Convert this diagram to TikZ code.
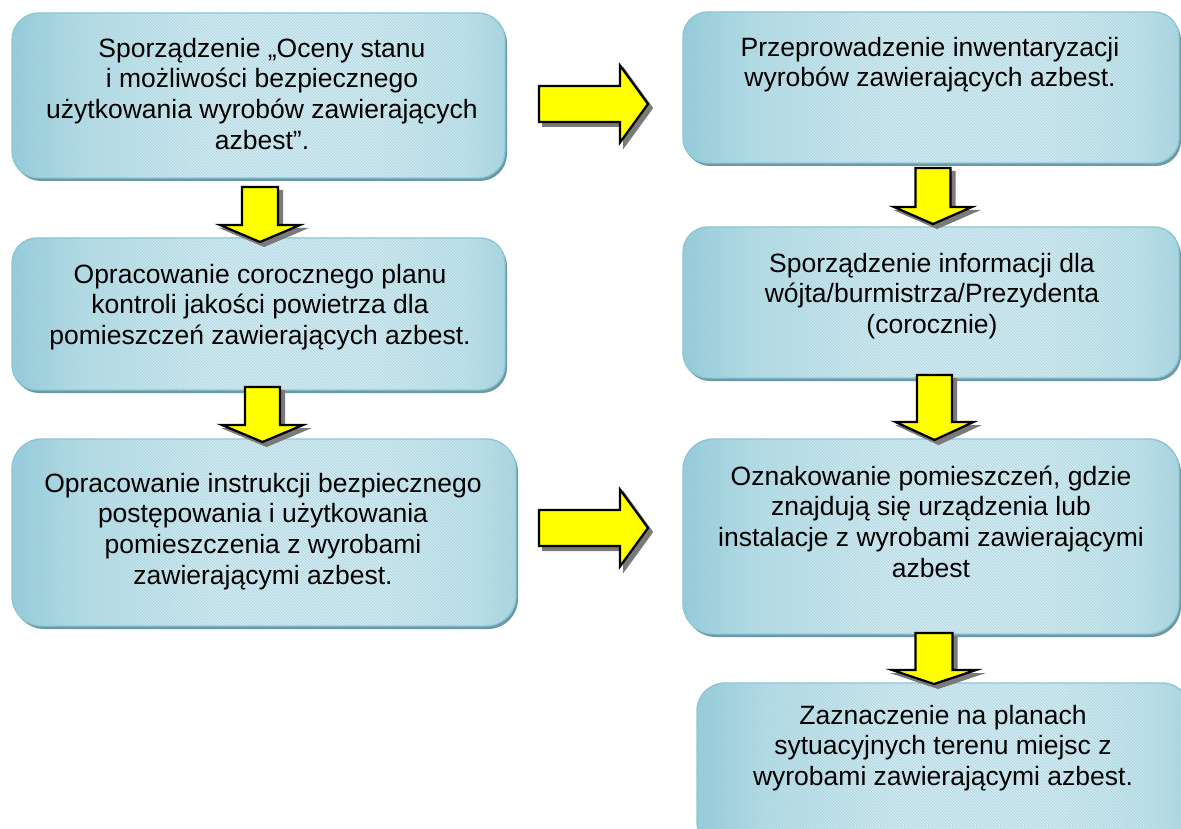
\documentclass[tikz,border=0pt]{standalone}
\usepackage{fontspec}
\setmainfont{Liberation Sans}
\usetikzlibrary{shadows,patterns}
\definecolor{boxdark}{HTML}{8CC8D8}
\definecolor{boxmid}{HTML}{B6DEE8}
\definecolor{boxlight}{HTML}{D5ECF2}
\definecolor{boxright}{HTML}{A8D6E2}
\definecolor{boxrightb}{HTML}{C2E4EC}
\definecolor{boxedge}{HTML}{85C4D4}
\definecolor{boxshadow}{HTML}{6C98A3}
\definecolor{stripe}{HTML}{A9D2DC}
\definecolor{arrowshadow}{HTML}{7A7A7A}
\definecolor{arrowyellow}{HTML}{FFFF00}
\pgfdeclarehorizontalshading{boxshade}{100bp}{color(0bp)=(boxdark); color(25bp)=(boxdark);
  color(32bp)=(boxmid); color(45bp)=(boxlight); color(62bp)=(boxlight);
  color(71bp)=(boxrightb); color(75bp)=(boxright); color(100bp)=(boxright)}
\tikzset{
  box/.style={draw=boxedge, line width=1.4pt, inner sep=0pt, outer sep=0pt,
    rounded corners=#1, shade, shading=boxshade, shading angle=0,
    drop shadow={shadow xshift=2pt, shadow yshift=-3pt, fill=boxshadow, opacity=1},
    postaction={pattern=north west lines, pattern color=stripe}},
  txt/.style={anchor=north, inner sep=0pt, align=center, text=black,
    font=\fontsize{26.5pt}{30.7pt}\selectfont},
  arrowbody/.style={fill=arrowyellow, draw=black, line width=2.2pt, line join=miter},
  arrowshade/.style={fill=arrowshadow, draw=arrowshadow, line width=2pt}
}
% #1 centre x, #2 top y, #3 head start y, #4 tip y, #5 shaft half width, #6 head half width
\newcommand{\blockdown}[6]{%
  \fill[arrowshade] (#1-#5+4,#2+4) -- (#1+#5+4,#2+4) -- (#1+#5+4,#3+4) -- (#1+#6+4,#3+4)
     -- (#1+4,#4+4) -- (#1-#6+4,#3+4) -- (#1-#5+4,#3+4) -- cycle;
  \filldraw[arrowbody] (#1-#5,#2) -- (#1+#5,#2) -- (#1+#5,#3) -- (#1+#6,#3)
     -- (#1,#4) -- (#1-#6,#3) -- (#1-#5,#3) -- cycle;}
% #1 left x, #2 head start x, #3 tip x, #4 centre y, #5 shaft half height, #6 head half height
\newcommand{\blockright}[6]{%
  \fill[arrowshade] (#1+4,#4-#5+4) -- (#2+4,#4-#5+4) -- (#2+4,#4-#6+4) -- (#3+4,#4+4)
     -- (#2+4,#4+#6+4) -- (#2+4,#4+#5+4) -- (#1+4,#4+#5+4) -- cycle;
  \filldraw[arrowbody] (#1,#4-#5) -- (#2,#4-#5) -- (#2,#4-#6) -- (#3,#4)
     -- (#2,#4+#6) -- (#2,#4+#5) -- (#1,#4+#5) -- cycle;}
\begin{document}
\begin{tikzpicture}[x=1pt,y=-1pt]
\useasboundingbox (0,0) rectangle (1181,829);
\clip (0,0) rectangle (1181,829);
\fill[white] (0,0) rectangle (1181,829);

% boxes
\node[box=27pt, minimum width=493pt, minimum height=165pt] (b1) at (258.5,95.5) {};
\node[box=25pt, minimum width=493pt, minimum height=152pt] (b2) at (258.5,314) {};
\node[box=30pt, minimum width=504pt, minimum height=187pt] (b3) at (264,532.5) {};
\node[box=25pt, minimum width=496pt, minimum height=151pt] (b4) at (931,87.5) {};
\node[box=25pt, minimum width=496pt, minimum height=151pt] (b5) at (931,302.5) {};
\node[box=31pt, minimum width=496pt, minimum height=195pt] (b6) at (931,536.5) {};
\node[box=28pt, minimum width=493pt, minimum height=167pt] (b7) at (943.5,766.5) {};

% texts
\node[txt] (t1) at (262,36) {\rule{0pt}{21pt}Sporządzenie „Oceny stanu\\i możliwości bezpiecznego\\użytkowania wyrobów zawierających\\azbest”.};
\node[txt] (t2) at (260,262) {\rule{0pt}{21pt}Opracowanie corocznego planu\\kontroli jakości powietrza dla\\pomieszczeń zawierających azbest.};
\node[txt] (t3) at (263,471) {\rule{0pt}{21pt}Opracowanie instrukcji bezpiecznego\\postępowania i użytkowania\\pomieszczenia z wyrobami\\zawierającymi azbest.};
\node[txt] (t4) at (930,35) {\rule{0pt}{21pt}Przeprowadzenie inwentaryzacji\\wyrobów zawierających azbest.};
\node[txt] (t5) at (932,251) {\rule{0pt}{21pt}Sporządzenie informacji dla\\wójta/burmistrza/Prezydenta\\(corocznie)};
\node[txt] (t6) at (931,464) {\rule{0pt}{21pt}Oznakowanie pomieszczeń, gdzie\\znajdują się urządzenia lub\\instalacje z wyrobami zawierającymi\\azbest};
\node[txt] (t7) at (943,703) {\rule{0pt}{21pt}Zaznaczenie na planach\\sytuacyjnych terenu miejsc z\\wyrobami zawierającymi azbest.};

% block arrows
\blockdown{260}{187}{225}{242}{18}{40}
\blockdown{262.5}{387}{425}{442}{17.5}{40.5}
\blockdown{933}{168}{207}{224}{17.5}{39}
\blockdown{934.5}{375}{422}{440}{17.5}{39}
\blockdown{934}{633}{670}{684}{18.5}{42}
\blockright{539}{620}{648}{104}{18}{38.5}
\blockright{539}{620}{648}{528}{18}{38.5}
\end{tikzpicture}
\end{document}
